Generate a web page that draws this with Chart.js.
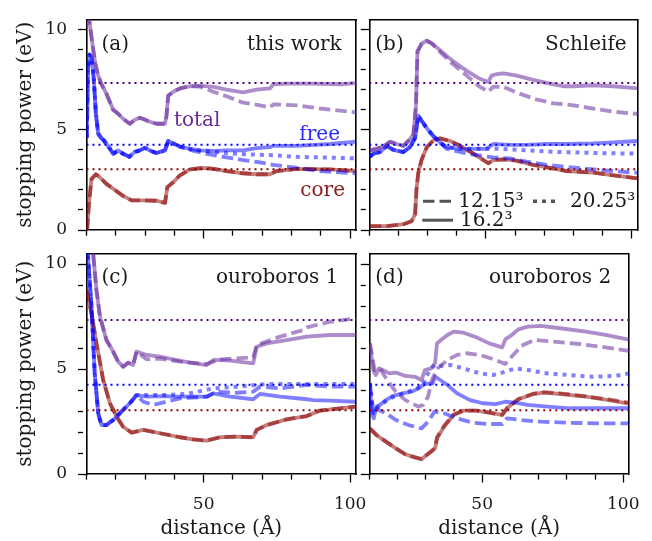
<!DOCTYPE html>
<html><head><meta charset="utf-8">
<script src="https://cdn.jsdelivr.net/npm/chart.js@4.4.1/dist/chart.umd.min.js"></script>
<style>
html,body{margin:0;padding:0;background:#fff;}
#wrap{position:relative;width:652px;height:541px;overflow:hidden;background:#fff;}
#wrap canvas{position:absolute;left:0;top:0;}
</style></head><body>
<div id="wrap">
<canvas id="ca" width="652" height="541"></canvas>
<canvas id="cb" width="652" height="541"></canvas>
<canvas id="cc" width="652" height="541"></canvas>
<canvas id="cd" width="652" height="541"></canvas>
</div>
<script>
// ---------- data ----------
const xMin = 10, xMax = 102, yMin = 0, yMax = 10.5;
const xTickValues = [10,20,30,40,50,60,70,80,90,100];
const yTickValues = [0,1,2,3,4,5,6,7,8,9,10];
const xTickLabels = {50:'50', 100:'100'};
const yTickLabels = {0:'0', 5:'5', 10:'10'};
const xTitle = 'distance (Å)';
const yTitle = 'stopping power (eV)';
const refTotal = 7.33, refFree = 4.25, refCore = 3.03;
const panelLetters = ['(a)','(b)','(c)','(d)'];
const panelNames = ['this work','Schleife','ouroboros 1','ouroboros 2'];
const curveNames = ['total','free','core'];
const gridSizes = ['12.15³','16.2³','20.25³'];

// panel (a) — this work
const aTotal16 = [[10.2,10.8],[11,10.4],[12,9.3],[13,8.3],[14,7.7],[15,7.3],[16.8,6.8],[19.1,6.0],[20.8,5.8],[22.5,5.55],[24.8,5.3],[26.5,5.5],[28.2,5.6],[30,5.5],[31.6,5.4],[33.9,5.3],[36.8,5.3],[37.3,5.7],[37.9,6.7],[39.6,6.9],[41.9,7.06],[45.3,7.17],[48.7,7.2],[53.3,7.14],[57.8,7.0],[63.5,6.86],[68,7.0],[72.6,7.06],[73.8,7.27],[78.3,7.3],[87.4,7.3],[96.6,7.27],[102,7.33]];
const aTotal12 = [[10.2,10.8],[11,10.4],[12,9.3],[13,8.3],[14,7.7],[15,7.3],[16.8,6.8],[19.1,6.0],[20.8,5.8],[22.5,5.55],[24.8,5.3],[26.5,5.5],[28.2,5.6],[30,5.5],[31.6,5.4],[33.9,5.3],[36.8,5.3],[37.3,5.7],[37.9,6.7],[39.6,6.9],[41.9,7.06],[45.3,7.17],[48.7,7.15],[53.3,6.9],[57.8,6.67],[63.5,6.35],[69.2,6.22],[72.6,6.11],[73.8,6.27],[81.8,6.22],[89.7,6.06],[102,5.87]];
const aFree16 = [[10.1,4.6],[10.5,8.0],[11,8.75],[11.8,8.6],[12.5,7.5],[13.2,5.8],[14,4.8],[15,4.6],[15.7,4.5],[16.8,4.3],[18,4.05],[19.1,3.8],[20.8,3.97],[22.5,3.8],[24.6,3.65],[26.5,3.9],[28.2,3.97],[30,4.1],[31.6,3.97],[33.9,3.84],[36.8,3.97],[37.9,4.44],[39.6,4.32],[41.9,4.16],[45.3,4.05],[48.7,3.97],[53.3,3.94],[57.8,3.97],[63.5,3.97],[68,4.08],[72.6,4.13],[73.8,4.2],[81.8,4.2],[93.2,4.29],[102,4.41]];
const aFree12 = [[10.1,4.6],[10.5,8.0],[11,8.75],[11.8,8.6],[12.5,7.5],[13.2,5.8],[14,4.8],[15,4.6],[15.7,4.5],[16.8,4.3],[18,4.05],[19.1,3.8],[20.8,3.97],[22.5,3.8],[24.6,3.65],[26.5,3.9],[28.2,3.97],[30,4.1],[31.6,3.97],[33.9,3.84],[36.8,3.97],[37.9,4.44],[39.6,4.32],[41.9,4.16],[45.3,4.0],[51,3.8],[57.8,3.62],[63.5,3.49],[69.2,3.37],[73.8,3.25],[81.8,3.1],[89.7,2.94],[102,2.83]];
const aFree20 = [[10.1,4.6],[10.5,8.0],[11,8.75],[11.8,8.6],[12.5,7.5],[13.2,5.8],[14,4.8],[15,4.6],[15.7,4.5],[16.8,4.3],[18,4.05],[19.1,3.8],[20.8,3.97],[22.5,3.8],[24.6,3.65],[26.5,3.9],[28.2,3.97],[30,4.1],[31.6,3.97],[33.9,3.84],[36.8,3.97],[37.9,4.44],[39.6,4.32],[41.9,4.16],[45.3,4.05],[48.7,3.97],[53.3,3.9],[63.5,3.78],[73.8,3.73],[81.8,3.65],[89.7,3.62],[102,3.57]];
const aCore16 = [[10.2,0],[10.9,1.43],[11.7,2.54],[13.2,2.78],[14.6,2.62],[16.8,2.3],[19.1,2.06],[22.5,1.7],[25.4,1.48],[29.4,1.48],[33.9,1.46],[36.8,1.35],[37.6,2.14],[39.6,2.38],[41.9,2.73],[45.3,3.02],[49.9,3.1],[53.3,3.05],[57.8,2.94],[63.5,2.83],[68,2.78],[72.6,2.78],[74.9,2.94],[81.8,3.05],[93.2,3.02],[102,2.94]];
const aCore12 = [[10.2,0],[10.9,1.43],[11.7,2.54],[13.2,2.78],[14.6,2.62],[16.8,2.3],[19.1,2.06],[22.5,1.7],[25.4,1.48],[29.4,1.48],[33.9,1.46],[36.8,1.35],[37.6,2.14],[39.6,2.38],[41.9,2.73],[45.3,3.02],[49.9,3.1],[53.3,3.05],[57.8,2.94],[63.5,2.83],[68,2.78],[72.6,2.78],[74.9,2.94],[81.8,3.05],[93.2,3.02],[102,2.94]];

// panel (b) — Schleife
const bTotal16 = [[10.2,3.97],[12.5,4.05],[14.8,4.16],[17.1,4.4],[19.4,4.29],[21.7,4.2],[23.9,4.52],[25.1,4.76],[26,6.19],[26.5,8.9],[27.9,9.29],[29.7,9.44],[31.4,9.32],[34.2,8.97],[38.8,8.41],[43.4,7.94],[47.9,7.54],[50.8,7.38],[51.9,7.7],[53.7,7.78],[56,7.81],[60.5,7.7],[66.2,7.49],[71.9,7.3],[76.5,7.17],[79.9,7.17],[86.8,7.22],[93.7,7.17],[102,7.06]];
const bTotal12 = [[10.2,3.97],[12.5,4.05],[14.8,4.16],[17.1,4.4],[19.4,4.29],[21.7,4.2],[23.9,4.52],[25.1,4.76],[26,6.19],[26.5,8.9],[27.9,9.29],[29.7,9.44],[31.4,9.3],[34.2,8.89],[38.8,8.25],[43.4,7.7],[47.9,7.14],[50.8,6.9],[52.5,7.14],[56,7.14],[61.7,6.79],[67.4,6.51],[73.1,6.32],[79.9,6.22],[86.8,6.06],[93.7,5.9],[102,5.79]];
const bFree16 = [[10.2,3.65],[11.4,3.81],[13.7,3.89],[16,4.2],[18.2,4.0],[21.7,3.89],[23.9,4.13],[25.7,4.6],[26.8,5.71],[27.4,5.56],[29.7,5.08],[32,4.68],[34.2,4.37],[36.5,4.13],[41.1,4.05],[46.8,4.05],[50.2,4.05],[52.5,4.29],[58.2,4.25],[63.9,4.25],[70.8,4.29],[77.7,4.29],[86.8,4.32],[93.7,4.37],[102,4.44]];
const bFree12 = [[10.2,3.65],[11.4,3.81],[13.7,3.89],[16,4.2],[18.2,4.0],[21.7,3.89],[23.9,4.13],[25.7,4.6],[26.8,5.71],[27.4,5.56],[29.7,5.08],[32,4.68],[36.5,4.05],[41.1,3.89],[46.8,3.73],[52.5,3.62],[58.2,3.57],[63.9,3.41],[70.8,3.25],[77.7,3.14],[86.8,3.02],[93.7,2.94],[102,2.85]];
const bFree20 = [[10.2,3.65],[11.4,3.81],[13.7,3.89],[16,4.2],[18.2,4.0],[21.7,3.89],[23.9,4.13],[25.7,4.6],[26.8,5.71],[27.4,5.56],[29.7,5.08],[32,4.68],[34.2,4.37],[36.5,4.13],[41.1,4.05],[46.8,4.05],[50.2,4.05],[54.8,4.05],[63.9,3.97],[75.4,3.89],[86.8,3.84],[102,3.81]];
const bCore16 = [[10.2,0.19],[16,0.19],[21.7,0.29],[24.5,0.44],[25.7,0.79],[26.2,2.06],[26.8,2.86],[27.9,3.49],[29.7,4.13],[32,4.48],[34.2,4.57],[37.7,4.44],[41.1,4.2],[45.7,3.81],[50.8,3.33],[52.5,3.49],[56,3.52],[60.5,3.46],[66.2,3.25],[71.9,3.1],[77.7,2.94],[86.8,2.86],[93.7,2.73],[102,2.57]];
const bCore12 = [[10.2,0.19],[16,0.19],[21.7,0.29],[24.5,0.44],[25.7,0.79],[26.2,2.06],[26.8,2.86],[27.9,3.49],[29.7,4.13],[32,4.48],[34.2,4.57],[37.7,4.44],[41.1,4.2],[45.7,3.81],[50.8,3.33],[52.5,3.49],[56,3.52],[60.5,3.46],[66.2,3.25],[71.9,3.1],[77.7,2.94],[86.8,2.86],[93.7,2.73],[102,2.57]];

// panel (c) — ouroboros 1
const cTotal16 = [[11.5,12],[12.2,10.6],[13.4,8.76],[14.6,7.5],[16.8,6.38],[19.1,5.83],[20.8,5.35],[22.5,5.11],[24.2,5.3],[25.9,5.19],[27.1,5.83],[30.5,5.67],[35.1,5.59],[39.6,5.46],[45.3,5.3],[51,5.19],[53.3,5.43],[59,5.4],[66.9,5.27],[68.1,6.06],[71.5,6.22],[78.3,6.38],[85.2,6.54],[93.1,6.62],[102,6.62]];
const cTotal12 = [[11.5,12],[12.2,10.6],[13.4,8.76],[14.6,7.5],[16.8,6.38],[19.1,5.83],[20.8,5.35],[22.5,5.11],[24.2,5.3],[25.9,5.19],[27.1,5.83],[30.5,5.46],[35.1,5.5],[41.9,5.35],[51,5.24],[55.6,5.46],[66.9,5.56],[68.1,6.14],[76.1,6.54],[84,6.86],[85.2,6.98],[93.1,7.25],[102,7.41]];
const cFree16 = [[10.3,10.8],[11.7,7.97],[12.8,4.8],[14,2.89],[15.1,2.33],[16.8,2.33],[19.1,2.57],[22.5,3.05],[24.8,3.37],[27.1,3.76],[30.5,3.68],[36.2,3.71],[41.9,3.68],[47.6,3.68],[51,3.68],[53.3,3.84],[59,3.68],[66.9,3.56],[69.2,3.81],[76.1,3.68],[85.2,3.56],[87.4,3.52],[93.1,3.49],[102,3.44]];
const cFree12 = [[10.3,10.8],[11.7,7.97],[12.8,4.8],[14,2.89],[15.1,2.33],[16.8,2.33],[19.1,2.57],[22.5,3.05],[24.8,3.37],[27.1,3.76],[29.4,3.44],[32.8,3.29],[37.3,3.44],[41.9,3.6],[51,3.68],[54.4,3.92],[61.3,3.87],[66.9,3.92],[69.2,4.16],[76.1,4.08],[85.2,4.24],[93.1,4.16],[102,4.16]];
const cFree20 = [[10.3,10.8],[11.7,7.97],[12.8,4.8],[14,2.89],[15.1,2.33],[16.8,2.33],[19.1,2.57],[22.5,3.05],[24.8,3.37],[27.1,3.76],[36.2,3.76],[44.2,3.81],[53.3,4.08],[62.4,4.16],[71.5,4.29],[81.8,4.29],[102,4.29]];
const cCore16 = [[10,8.76],[11.7,7.65],[13.4,6.22],[15.7,4.48],[18,3.37],[20.3,2.73],[22.5,2.25],[25.4,1.97],[29.4,2.1],[35.1,1.94],[41.9,1.75],[46.4,1.65],[51,1.59],[55.6,1.75],[61.3,1.78],[66.9,1.75],[68.1,2.1],[71.5,2.33],[78.3,2.6],[85.2,2.76],[89.7,3.02],[96.6,3.13],[102,3.21]];
const cCore12 = [[10,8.76],[11.7,7.65],[13.4,6.22],[15.7,4.48],[18,3.37],[20.3,2.73],[22.5,2.25],[25.4,1.97],[29.4,2.1],[35.1,1.94],[41.9,1.75],[46.4,1.65],[51,1.59],[55.6,1.75],[61.3,1.78],[66.9,1.75],[68.1,2.1],[71.5,2.33],[78.3,2.6],[85.2,2.76],[89.7,3.02],[96.6,3.13],[102,3.21]];

// panel (d) — ouroboros 2
const dTotal16 = [[10.2,6.22],[11.4,4.95],[12.3,4.71],[13.4,5.03],[14.8,4.95],[17.1,4.79],[19.4,4.83],[22.8,4.67],[26.2,4.63],[28.5,4.48],[29.7,4.95],[31.9,5.03],[33.3,5.27],[34,6.22],[35.4,6.38],[37.7,6.62],[39.9,6.78],[43.4,6.73],[47.9,6.51],[52.5,6.22],[57.1,6.03],[58.2,6.41],[60.5,6.62],[62.8,6.89],[66.2,7.02],[70.8,7.05],[77.7,6.94],[86.8,6.78],[93.7,6.62],[102,6.4]];
const dTotal12 = [[10.2,6.22],[11.9,4.95],[13.7,5.03],[17.1,4.32],[19.4,3.92],[22.8,3.52],[27.4,3.21],[29.1,3.29],[30.8,3.68],[32.2,4.48],[34.2,5.03],[37.7,5.43],[41.1,5.67],[44.5,5.75],[49.1,5.67],[54.8,5.43],[58.2,5.24],[60.5,5.59],[63.9,6.1],[68.5,6.38],[75.4,6.3],[84.5,6.19],[93.7,6.03],[102,5.86]];
const dFree16 = [[10.2,4.32],[10.8,2.89],[11.6,2.65],[12.5,3.21],[13.7,3.29],[15.9,3.52],[18.2,3.71],[21.7,3.84],[25.1,3.92],[27.4,4.08],[29.7,4.29],[32.5,4.32],[33.3,4.63],[34.2,4.56],[37.7,4.24],[41.1,3.84],[45.7,3.52],[50.2,3.37],[54.8,3.33],[58.2,3.44],[61.7,3.4],[66.2,3.29],[73.1,3.21],[81.1,3.13],[92.5,3.13],[102,3.13]];
const dFree12 = [[10.2,4.32],[11.4,2.89],[12.5,3.1],[15.9,2.89],[19.4,2.57],[23.9,2.33],[28.5,2.17],[30.8,2.49],[33.1,2.97],[36.5,2.89],[41.1,2.65],[46.8,2.44],[52.5,2.38],[57.1,2.38],[58.8,2.65],[63.9,2.57],[70.8,2.49],[81.1,2.44],[92.5,2.41],[102,2.41]];
const dFree20 = [[10.2,4.32],[11.4,2.89],[13.7,3.29],[18.2,3.65],[23.9,3.92],[28.5,4.16],[31.4,4.95],[33.1,5.19],[34.8,5.14],[38.8,5.19],[43.4,5.03],[49.1,4.79],[53.7,4.71],[57.1,4.83],[61.7,5.03],[66.2,4.95],[73.1,4.79],[81.1,4.71],[89.1,4.63],[97.1,4.67],[102,4.79]];
const dCore16 = [[10.2,2.17],[12.5,1.86],[15.9,1.54],[19.4,1.22],[22.8,0.94],[26.2,0.79],[28.5,0.7],[29.7,0.83],[31.9,1.06],[33.3,1.22],[34,1.7],[36.5,2.25],[39.9,2.81],[43.4,3.02],[47.9,3.02],[52.5,2.92],[57.1,2.81],[58.8,3.13],[62.8,3.56],[68.2,3.81],[71.9,3.87],[77.7,3.81],[86.8,3.68],[94.8,3.52],[102,3.35]];
const dCore12 = [[10.2,2.17],[12.5,1.86],[15.9,1.54],[19.4,1.22],[22.8,0.94],[26.2,0.79],[28.5,0.72],[29.7,0.85],[31.9,1.08],[33.3,1.25],[34,1.75],[36.5,2.3],[39.9,2.83],[43.4,3.02],[47.9,3.02],[52.5,2.92],[57.1,2.81],[58.8,3.13],[62.8,3.56],[68.2,3.83],[71.9,3.9],[77.7,3.84],[86.8,3.7],[94.8,3.55],[102,3.4]];

// ---------- styling ----------
const FONT = "'DejaVu Serif', serif";
const TXT = '#1a1a1a';
const COL = {
  total: 'rgba(105,45,160,0.55)', free: 'rgba(0,0,255,0.5)', core: 'rgba(139,0,0,0.5)',
  refTotal: '#4b0082', refFree: '#0000ff', refCore: '#8b0000',
  labTotal: '#6a2a98', labFree: '#2a2aff', labCore: '#8b1a1a', legend: '#555555'
};
const DASH = {'12': [11.5,5], '16': [], '20': [4,5]};

function pts(arr){ return arr.map(p => ({x:p[0], y:p[1]})); }
function series(arr, color, res){
  return {data: pts(arr), borderColor: color, borderWidth: res==='20' ? 4 : 3.8,
    borderDash: DASH[res], pointRadius: 0, tension: 0, fill: false,
    borderCapStyle: 'butt', borderJoinStyle: 'round'};
}
function refLine(v, color){
  return {data: [{x:xMin,y:v},{x:xMax,y:v}], borderColor: color, borderWidth: 2,
    borderDash: [2,4], pointRadius: 0, fill: false};
}

function scalesFor(p){
  const tickDash = (labels) => (ctx) => (ctx.tick && labels[ctx.tick.value] !== undefined) ? [] : [5,50];
  const border = {display:true, color:'#000', width:1.6};
  return {
    x: {type:'linear', position:'bottom', min:xMin, max:xMax,
      afterBuildTicks: s => { s.ticks = xTickValues.map(v => ({value:v})); },
      afterFit: s => { s.height = p.HX; },
      ticks: {autoSkip:false, maxRotation:0, padding:12, color:TXT,
        font:{family:FONT, size:17}, callback: v => p.xLab ? (xTickLabels[v] || '') : ''},
      grid: {display:true, drawOnChartArea:false, drawTicks:true, tickLength:8.5,
        tickWidth:1.3, tickColor:'#000', tickBorderDash: tickDash(xTickLabels)},
      border: border,
      title: p.xLab ? {display:true, text:xTitle, color:TXT, font:{family:FONT, size:20}, padding:{top:0, bottom:0}} : {display:false}
    },
    y: {type:'linear', position:'left', min:yMin, max:yMax,
      afterBuildTicks: s => { s.ticks = yTickValues.map(v => ({value:v})); },
      afterFit: s => { s.width = p.WY; },
      ticks: {autoSkip:false, padding:11, color:TXT,
        font:{family:FONT, size:17, lineHeight:1}, callback: v => p.yLab ? (yTickLabels[v] || '') : ''},
      grid: {display:true, drawOnChartArea:false, drawTicks:true, tickLength:8.5,
        tickWidth:1.3, tickColor:'#000', tickBorderDash: tickDash(yTickLabels)},
      border: border,
      title: p.yLab ? {display:true, text:yTitle, color:TXT, font:{family:FONT, size:20}, padding:{top:13.5, bottom:0}} : {display:false}
    },
    xTop: {type:'linear', position:'top', min:xMin, max:xMax,
      afterFit: s => { s.height = p.HT; },
      ticks:{display:false}, grid:{display:false, drawTicks:false}, border: border},
    yRight: {type:'linear', position:'right', min:yMin, max:yMax,
      afterFit: s => { s.width = p.WR; },
      ticks:{display:false}, grid:{display:false, drawTicks:false}, border: border}
  };
}

function textPlugin(items, legend){
  return {id:'panelText', afterDraw(chart){
    const ctx = chart.ctx, a = chart.chartArea;
    ctx.save();
    ctx.textBaseline = 'alphabetic';
    items.forEach(t => {
      ctx.font = (t.size || 20) + 'px ' + FONT;
      ctx.fillStyle = t.color || TXT;
      ctx.textAlign = t.align || 'left';
      const x = t.align === 'right' ? a.right - t.dx : a.left + t.dx;
      ctx.fillText(t.text, x, a.top + t.dy);
    });
    if (legend){
      legend.forEach(l => {
        ctx.strokeStyle = COL.legend; ctx.lineWidth = l.res === '20' ? 3.6 : 3;
        ctx.setLineDash(DASH[l.res]);
        ctx.beginPath();
        ctx.moveTo(a.left + l.x0, a.top + l.ly);
        ctx.lineTo(a.left + l.x1, a.top + l.ly);
        ctx.stroke();
        ctx.setLineDash([]);
        ctx.font = '20px ' + FONT; ctx.fillStyle = TXT; ctx.textAlign = 'left';
        ctx.fillText(l.text, a.left + l.tx, a.top + l.ty);
      });
    }
    ctx.restore();
  }};
}

function makePanel(id, sets, layout, items, legend){
  const datasets = [
    refLine(refTotal, COL.refTotal), refLine(refFree, COL.refFree), refLine(refCore, COL.refCore),
    series(sets.total12, COL.total, '12'), series(sets.total16, COL.total, '16'),
    series(sets.free12, COL.free, '12'), series(sets.free16, COL.free, '16'), series(sets.free20, COL.free, '20'),
    series(sets.core12, COL.core, '12'), series(sets.core16, COL.core, '16')
  ];
  return new Chart(document.getElementById(id), {
    type: 'line',
    data: {datasets},
    options: {
      responsive:false, animation:false, devicePixelRatio:1,
      layout: {padding: layout.pad},
      plugins: {legend:{display:false}, tooltip:{enabled:false}},
      scales: scalesFor(layout)
    },
    plugins: [textPlugin(items, legend)]
  });
}

const topLeft  = {pad:{left:0, top:0, right:276, bottom:281}, WY:86.5, HX:30, HT:10, WR:20, xLab:false, yLab:true};
const topRight = {pad:{left:339.3, top:0, right:0, bottom:281}, WY:30, HX:30, HT:10, WR:14.3, xLab:false, yLab:false};
const botLeft  = {pad:{left:0, top:243.5, right:276, bottom:0}, WY:86.5, HX:67, HT:10, WR:20, xLab:true, yLab:true};
const botRight = {pad:{left:339.3, top:243.5, right:0, bottom:0}, WY:30, HX:67, HT:10, WR:14.3, xLab:true, yLab:false};

makePanel('ca', {total12:aTotal12,total16:aTotal16,free12:aFree12,free16:aFree16,free20:aFree20,core12:aCore12,core16:aCore16}, topLeft, [
  {text:panelLetters[0], dx:15, dy:30},
  {text:panelNames[0], dx:14.3, dy:30, align:'right'},
  {text:curveNames[0], dx:87.5, dy:106.7, color:COL.labTotal},
  {text:curveNames[1], dx:16, dy:120.7, align:'right', color:COL.labFree},
  {text:curveNames[2], dx:11, dy:176, align:'right', color:COL.labCore}
]);
makePanel('cb', {total12:bTotal12,total16:bTotal16,free12:bFree12,free16:bFree16,free20:bFree20,core12:bCore12,core16:bCore16}, topRight, [
  {text:panelLetters[1], dx:6, dy:30},
  {text:panelNames[1], dx:11, dy:30, align:'right'}
], [
  {res:'12', x0:53.7, x1:83.7, ly:181.7, text:gridSizes[0], tx:89, ty:187},
  {res:'20', x0:163.7, x1:188, ly:181.7, text:gridSizes[2], tx:200.7, ty:187},
  {res:'16', x0:53, x1:83.7, ly:200.7, text:gridSizes[1], tx:90.7, ty:206.7}
]);
makePanel('cc', {total12:cTotal12,total16:cTotal16,free12:cFree12,free16:cFree16,free20:cFree20,core12:cCore12,core16:cCore16}, botLeft, [
  {text:panelLetters[2], dx:15, dy:29.5},
  {text:panelNames[2], dx:17.7, dy:29.5, align:'right'}
]);
makePanel('cd', {total12:dTotal12,total16:dTotal16,free12:dFree12,free16:dFree16,free20:dFree20,core12:dCore12,core16:dCore16}, botRight, [
  {text:panelLetters[3], dx:6, dy:29.5},
  {text:panelNames[3], dx:17.7, dy:29.5, align:'right'}
]);
</script>
</body></html>
